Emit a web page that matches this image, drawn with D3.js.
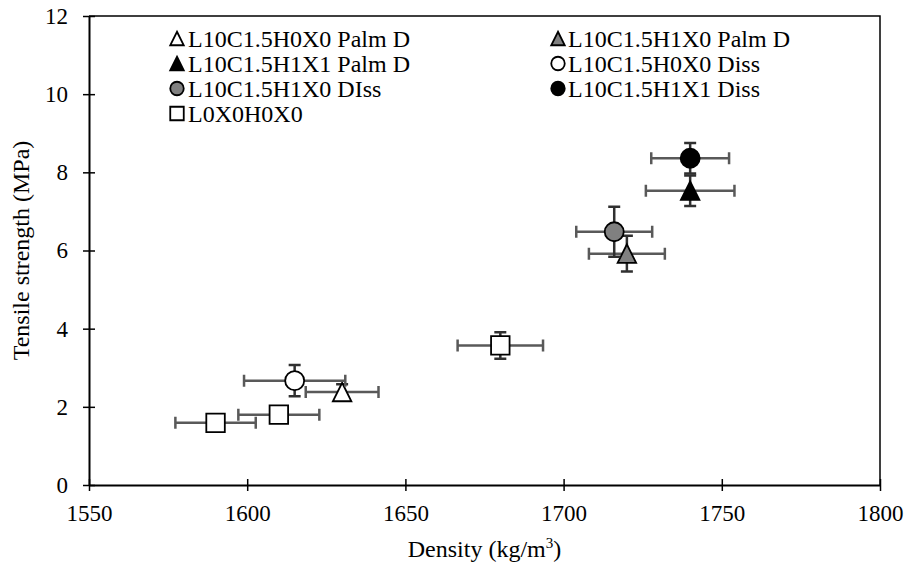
<!DOCTYPE html>
<html><head><meta charset="utf-8">
<script src="https://cdn.jsdelivr.net/npm/d3@7"></script>
<style>html,body{margin:0;padding:0;background:#fff;}svg{display:block;}</style>
</head><body>
<svg id="chart" width="909" height="567"></svg>
<script>
// ---- data ----
const seriesNames = ["L10C1.5H0X0 Palm D","L10C1.5H1X0 Palm D","L10C1.5H1X1 Palm D","L10C1.5H0X0 Diss","L10C1.5H1X0 DIss","L10C1.5H1X1 Diss","L0X0H0X0"];
const seriesShapes = ["triangle","triangle","triangle","circle","circle","circle","square"];
const seriesFills = ["#ffffff","#808080","#000000","#ffffff","#808080","#000000","#ffffff"];
const densityValues = [[1630],[1720],[1740],[1615],[1716],[1740],[1590,1610,1680]];
const strengthValues = [[2.38],[5.92],[7.53],[2.67],[6.48],[8.36],[1.59,1.80,3.57]];
const densityErrors = [[11.5],[12],[14],[16],[12],[12.3],[12.7,12.8,13.5]];
const strengthErrors = [[0.2],[0.46],[0.39],[0.4],[0.64],[0.39],[0.05,0.05,0.34]];
const xTicks = [1550,1600,1650,1700,1750,1800];
const yTicks = [0,2,4,6,8,10,12];

const svg = d3.select("#chart");
const L = 89, R = 880, T = 16, B = 485;
const x = d3.scaleLinear().domain([1550,1800]).range([L,R]);
const y = d3.scaleLinear().domain([0,12]).range([B,T]);
const font = "'Liberation Serif','Times New Roman',serif";

// border (top, right)
svg.append("path").attr("d",`M${L},${T}H${R}V${B}`).attr("fill","none").attr("stroke","#000").attr("stroke-width",1.5);

// axes
const xAxis = svg.append("g").attr("transform",`translate(0,${B})`)
  .call(d3.axisBottom(x).tickValues(xTicks).tickFormat(d3.format("d")).tickSizeInner(6).tickSizeOuter(0).tickPadding(14));
const yAxis = svg.append("g").attr("transform",`translate(${L},0)`)
  .call(d3.axisLeft(y).tickValues(yTicks).tickFormat(d3.format("d")).tickSizeInner(6).tickSizeOuter(0).tickPadding(15));
[xAxis,yAxis].forEach(g=>{
  g.attr("font-family",null).attr("font-size",null);
  g.select(".domain").attr("stroke","#000").attr("stroke-width",2);
  g.selectAll(".tick line").attr("stroke","#000").attr("stroke-width",1.5);
  g.selectAll(".tick text").style("font-family",font).style("font-size","23px").attr("fill","#000");
});
xAxis.selectAll(".tick line").attr("y1",-6);
yAxis.selectAll(".tick line").attr("x1",6);

// axis titles
svg.append("text").attr("x",(L+R)/2).attr("y",557).attr("text-anchor","middle")
  .style("font-family",font).style("font-size","24px")
  .html('Density (kg/m<tspan dy="-9" style="font-size:15px">3</tspan><tspan dy="9">)</tspan>');
svg.append("text").attr("transform",`translate(29,${(T+B)/2}) rotate(-90)`).attr("text-anchor","middle")
  .style("font-family",font).style("font-size","24px").text("Tensile strength (MPa)");

// markers
function markerPath(shape, s){
  const h = s/2;
  if(shape==="triangle") return `M0,${-h}L${h},${h}L${-h},${h}Z`;
  if(shape==="square") return `M${-h},${-h}H${h}V${h}H${-h}Z`;
  return d3.arc()({innerRadius:0,outerRadius:h,startAngle:0,endAngle:2*Math.PI});
}

const plot = svg.append("g");
seriesNames.forEach((name,i)=>{
  const g = plot.append("g");
  densityValues[i].forEach((dx,j)=>{
    const dy = strengthValues[i][j], ex = densityErrors[i][j], ey = strengthErrors[i][j];
    const cx = x(dx), cy = y(dy);
    const cap = 6;
    g.append("path").attr("d",`M${x(dx-ex)},${cy}H${x(dx+ex)}M${x(dx-ex)},${cy-cap}V${cy+cap}M${x(dx+ex)},${cy-cap}V${cy+cap}`)
      .attr("stroke","#595959").attr("stroke-width",2.5).attr("fill","none");
    g.append("path").attr("d",`M${cx},${y(dy-ey)}V${y(dy+ey)}M${cx-cap},${y(dy-ey)}H${cx+cap}M${cx-cap},${y(dy+ey)}H${cx+cap}`)
      .attr("stroke","#303030").attr("stroke-width",2.5).attr("fill","none");
    g.append("path").attr("transform",`translate(${cx},${cy})`)
      .attr("d",markerPath(seriesShapes[i], seriesShapes[i]==="circle"?19:18.5))
      .attr("fill",seriesFills[i]).attr("stroke","#000").attr("stroke-width",1.8);
  });
});

// legend
const legCols = [177, 558], legText = [188, 568], legRow0 = 38.5, legStep = 25;
seriesNames.forEach((name,i)=>{
  const col = i%2, row = Math.floor(i/2);
  const yy = legRow0 + row*legStep;
  svg.append("path").attr("transform",`translate(${legCols[col]},${yy})`)
    .attr("d",markerPath(seriesShapes[i],13.5)).attr("fill",seriesFills[i]).attr("stroke","#000").attr("stroke-width",1.8);
  svg.append("text").attr("x",legText[col]).attr("y",yy+8).style("font-family",font).style("font-size","24px").text(name);
});
</script>
</body></html>
